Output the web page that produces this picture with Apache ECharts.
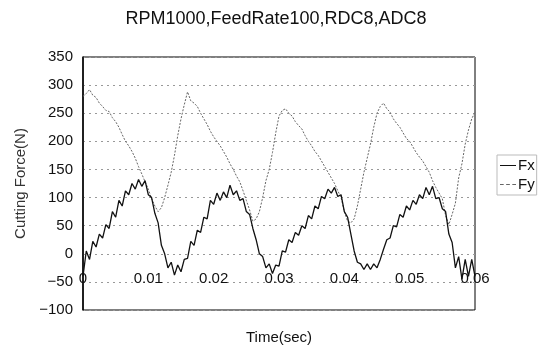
<!DOCTYPE html>
<html>
<head>
<meta charset="utf-8">
<script src="https://cdn.jsdelivr.net/npm/echarts@6/dist/echarts.min.js"></script>
<style>html,body{margin:0;padding:0;background:#fff;}#c{width:546px;height:351px;}</style>
</head>
<body>
<div id="c"></div>
<script>
var titleText = 'RPM1000,FeedRate100,RDC8,ADC8';
var xName = 'Time(sec)';
var yName = 'Cutting Force(N)';
var seriesNames = ['Fx', 'Fy'];
var timeStep = 0.0005;
var xTickLabels = ['0', '0.01', '0.02', '0.03', '0.04', '0.05', '0.06'];
var fxValues = [
 -40, 5, -10, 22, 12, 35, 28, 52, 45, 75,
 65, 95, 85, 112, 105, 125, 115, 132, 120, 130,
 105, 100, 72, 55, 15, 0, -25, -15, -38, -20,
 -32, -10, -8, 22, 15, 42, 38, 65, 62, 95,
 88, 108, 95, 110, 100, 122, 105, 112, 95, 98,
 75, 70, 45, 25, 0, -5, -25, -18, -35, -20,
 -22, 5, 3, 25, 20, 38, 33, 50, 45, 68,
 62, 85, 80, 102, 98, 115, 108, 118, 102, 105,
 75, 65, 35, 5, -15, -18, -28, -18, -28, -18,
 -25, -10, 8, 25, 28, 50, 48, 70, 65, 85,
 78, 95, 88, 105, 98, 118, 105, 120, 98, 100,
 80, 75, 35, 20, -25, -5, -45, -10, -40, -10,
 -40
];
var fyValues = [
 280, 285, 292, 282, 278, 268, 262, 255, 253, 242,
 235, 225, 212, 200, 192, 182, 170, 155, 142, 128,
 115, 98, 85, 75, 82, 100, 122, 145, 175, 210,
 240, 265, 288, 272, 268, 262, 250, 240, 230, 218,
 208, 200, 192, 182, 172, 160, 150, 138, 128, 112,
 95, 78, 58, 62, 75, 100, 130, 150, 180, 215,
 245, 255, 258, 250, 245, 235, 228, 222, 210, 200,
 192, 182, 175, 165, 155, 145, 135, 125, 112, 100,
 75, 58, 55, 62, 85, 115, 145, 170, 195, 225,
 250, 262, 268, 258, 252, 240, 232, 225, 215, 205,
 200, 190, 180, 172, 165, 155, 145, 130, 118, 108,
 98, 68, 52, 70, 90, 135, 160, 195, 220, 240,
 252
];
function pairs(vals) {
  return vals.map(function (v, i) { return [+(i * timeStep).toFixed(5), v]; });
}
var font = 'Liberation Sans, Arial, sans-serif';
var chart = echarts.init(document.getElementById('c'), null, {renderer: 'canvas'});
chart.setOption({
  animation: false,
  backgroundColor: '#fff',
  title: {
    text: titleText, left: 271, top: 5, textAlign: 'center',
    textStyle: {fontFamily: font, fontSize: 18, fontWeight: 'normal', color: '#111'}
  },
  legend: {
    orient: 'vertical', left: 497, top: 155,
    itemWidth: 16, itemHeight: 8, itemGap: 4,
    padding: [3, 2, 3, 3],
    borderColor: '#bbb', borderWidth: 1,
    textStyle: {fontFamily: font, fontSize: 15, color: '#111', padding: [0, 0, 0, -3]},
    data: [
      {name: seriesNames[0], icon: 'path://M0,4L16,4L16,5L0,5Z'},
      {name: seriesNames[1], icon: 'path://M0,4L3,4L3,5L0,5ZM5,4L8,4L8,5L5,5ZM10,4L13,4L13,5L10,5Z'}
    ]
  },
  grid: {left: 83, right: 71, top: 57, bottom: 41, show: true, borderColor: '#000', borderWidth: 1,
         containLabel: false, outerBoundsMode: 'none'},
  xAxis: {
    type: 'value', min: 0, max: 0.06, interval: 0.01,
    position: 'bottom', offset: -56,
    name: xName, nameLocation: 'middle', nameGap: 76,
    nameTextStyle: {fontFamily: font, fontSize: 15, color: '#111'},
    axisLine: {show: true, onZero: false, lineStyle: {color: '#000', opacity: 0}},
    axisTick: {show: false},
    splitLine: {show: false},
    axisLabel: {
      margin: 17, fontFamily: font, fontSize: 15, color: '#111',
      formatter: function (v) { return xTickLabels[Math.round(v / 0.01)]; }
    }
  },
  yAxis: {
    type: 'value', min: -100, max: 350, interval: 50,
    name: yName, nameLocation: 'middle', nameGap: 52,
    nameTextStyle: {fontFamily: font, fontSize: 15, color: '#333'},
    axisLine: {show: true, onZero: false, lineStyle: {color: '#000', width: 1.5}},
    axisTick: {show: false},
    axisLabel: {margin: 10, fontFamily: font, fontSize: 15, color: '#111',
      formatter: function (v) { return String(v).replace('-', '\u2212'); }},
    splitLine: {show: true, lineStyle: {color: '#999', type: [2, 4], width: 1}}
  },
  series: [
    {name: seriesNames[0], type: 'line', data: pairs(fxValues), showSymbol: false, symbol: 'none',
     lineStyle: {color: '#111', width: 1.3}, itemStyle: {color: '#111'}, z: 3},
    {name: seriesNames[1], type: 'line', data: pairs(fyValues), showSymbol: false, symbol: 'none',
     lineStyle: {color: '#666', width: 1, type: [2, 1.5]}, itemStyle: {color: '#666'}, z: 2}
  ]
});
</script>
</body>
</html>
